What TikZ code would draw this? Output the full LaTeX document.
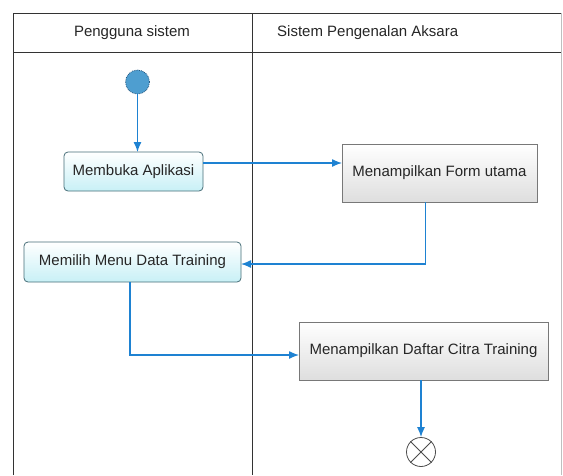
\documentclass[tikz,border=0pt]{standalone}
\usepackage{fontspec}
\setmainfont{Liberation Sans}
\usetikzlibrary{arrows.meta,shadings}
\definecolor{flow}{RGB}{30,130,210}
\definecolor{actborder}{RGB}{70,110,120}
\definecolor{actfill}{RGB}{200,240,246}
\definecolor{sysborder}{RGB}{120,120,120}
\definecolor{sysfill}{RGB}{222,222,222}
\definecolor{startfill}{RGB}{78,158,208}
\definecolor{startborder}{RGB}{40,90,130}
\tikzset{
  lane/.style={draw=black!80, line width=1pt},
  act/.style={draw=actborder, rounded corners=4pt, top color=white, bottom color=actfill, line width=0.8pt, minimum height=#1, inner sep=0pt, font=\fontsize{15}{17}\selectfont, text=black!85},
  sysbox/.style={draw=sysborder, top color=white, bottom color=sysfill, line width=0.8pt, minimum height=#1, inner sep=0pt, font=\fontsize{15}{17}\selectfont, text=black!85},
  flowline/.style={draw=flow, line width=1.3pt, -{Latex[length=10pt,width=8pt]}},
  hdr/.style={font=\fontsize{15}{17}\selectfont, inner sep=0pt, text=black!85}
}
\begin{document}
\begin{tikzpicture}[x=1pt,y=-1pt]
\useasboundingbox (0,0) rectangle (563,475);
\fill[white] (0,0) rectangle (563,475);
% swimlane frame
\draw[lane] (13,475) -- (13,13) -- (562,13);
\draw[lane] (13,52) -- (562,52);
\draw[lane] (252,13) -- (252,475);
\draw[black!25, line width=0.8pt] (561,13) -- (561,475);
\node[hdr] (h1) at (132,33) {Pengguna sistem};
\node[hdr, anchor=west] (h2) at (277,33) {Sistem Pengenalan Aksara};
% nodes
\node[circle, fill=startfill, draw=startborder, densely dotted, line width=0.8pt, minimum size=24pt, inner sep=0pt] (start) at (137.5,82) {};
\node[act=39pt, minimum width=139pt] (a1) at (133.5,171.5) {Membuka Aplikasi};
\node[sysbox=58pt, minimum width=195pt] (s1) at (439.5,173) {Menampilkan Form utama};
\node[act=40pt, minimum width=217pt] (a2) at (132.5,262) {Memilih Menu Data Training};
\node[sysbox=58pt, minimum width=249pt] (s2) at (423.5,351) {Menampilkan Daftar Citra Training};
\node[circle, draw=black!70, line width=0.8pt, minimum size=29pt, inner sep=0pt] (end) at (421,452) {};
\draw[black!70, line width=0.8pt] (end.north east) -- (end.south west) (end.north west) -- (end.south east);
% coordinates for connector bends
\coordinate (c0) at (137.5,152);
\coordinate (c1a) at (203,163);
\coordinate (c1b) at (342,163);
\coordinate (c3a) at (425.5,202);
\coordinate (c3b) at (425.5,264);
\coordinate (c3c) at (241,264);
\coordinate (c4a) at (130,282);
\coordinate (c4b) at (130,355);
\coordinate (c4c) at (299,355);
\coordinate (c5a) at (421,380);
% connectors
\draw[flowline] (start.south) -- (c0);
\draw[flowline] (c1a) -- (c1b);
\draw[flowline] (c3a) -- (c3b) -- (c3c);
\draw[flowline] (c4a) -- (c4b) -- (c4c);
\draw[flowline] (c5a) -- (end.north);
\end{tikzpicture}
\end{document}
